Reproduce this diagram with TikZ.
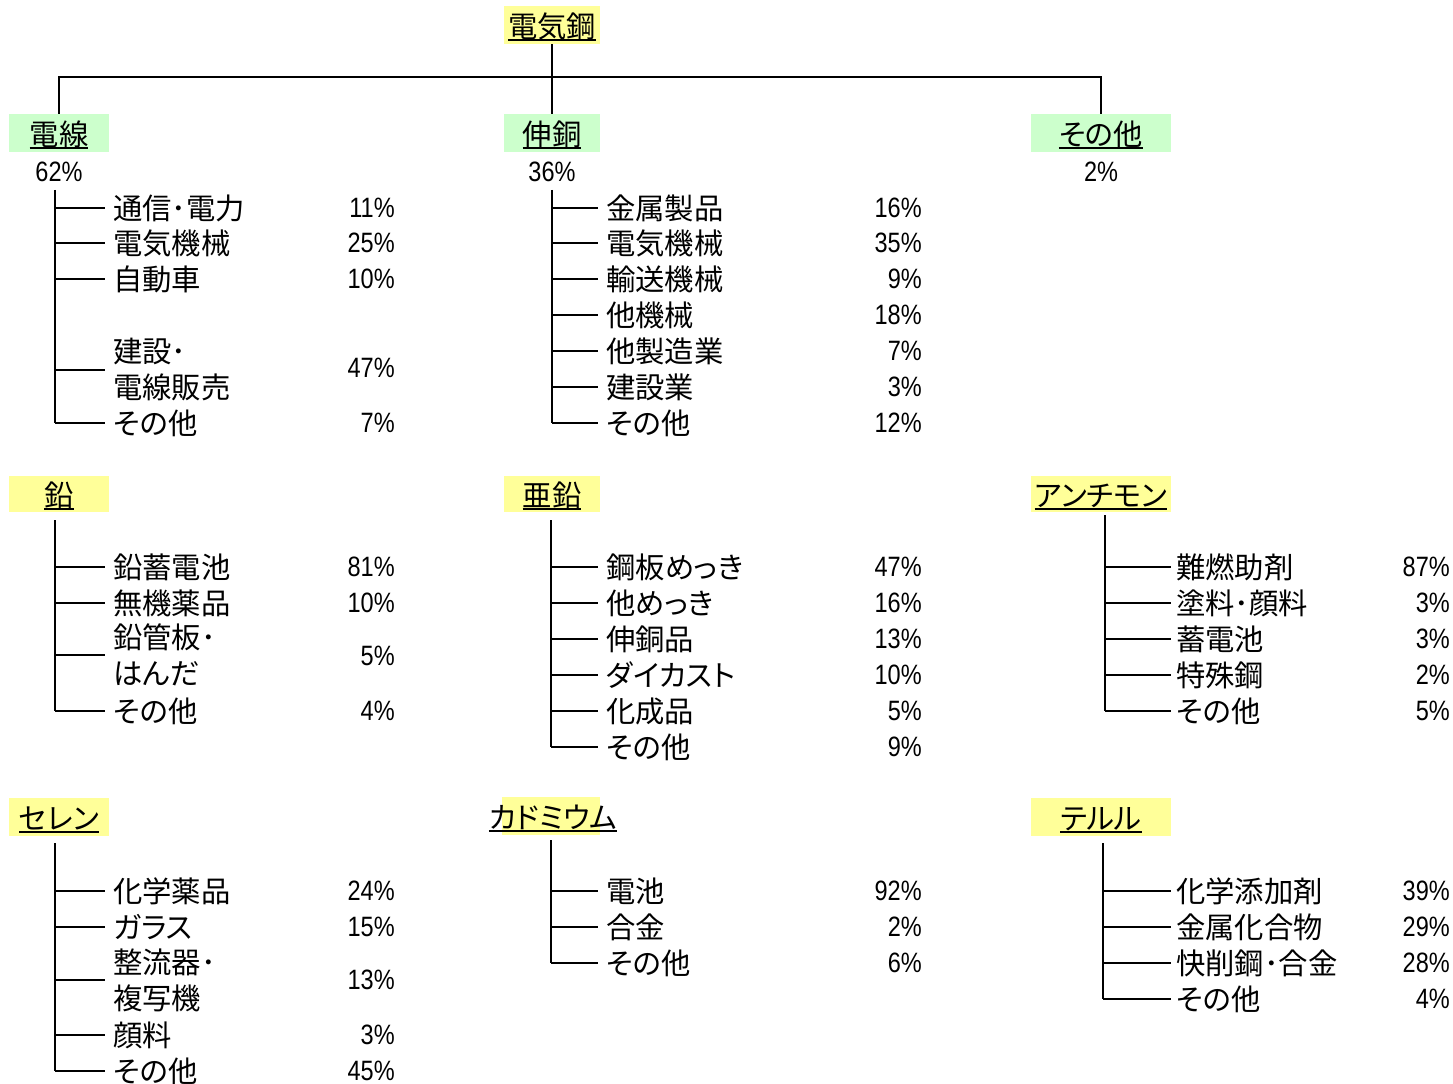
\documentclass[tikz,border=0pt]{standalone}
\usepackage{fontspec}
\setmainfont{Noto Sans CJK JP}[RawFeature=+palt]
\newfontfamily\pcfont{Liberation Sans}[FakeStretch=0.84]
\definecolor{hy}{HTML}{FFFF99}
\definecolor{hg}{HTML}{CCFFCC}
\newsavebox\ulbox
\newcommand\ulx[1]{\sbox\ulbox{#1}\rlap{\rule[-2.6pt]{\wd\ulbox}{1.6pt}}\usebox\ulbox}
\begin{document}
\begin{tikzpicture}[x=0.75pt,y=-0.75pt,
  hd/.style={inner sep=0, minimum height=28.5pt, text height=21pt, text depth=2pt, font=\fontsize{22}{27}\selectfont},
  it/.style={anchor=west, inner sep=0, align=left, font=\fontsize{22}{27}\selectfont},
  pc/.style={anchor=east, inner sep=0, font=\fontsize{21}{25}\selectfont\pcfont},
  hp/.style={inner sep=0, font=\fontsize{21}{25}\selectfont\pcfont},
  ln/.style={line width=1.4pt}]
\useasboundingbox (0,0) rectangle (1453,1084);

% ---------- top ----------
\node[hd, fill=hy, minimum width=72pt] (cu) at (552,25) {\ulx{電気鋼}};
\node[hd, fill=hg, minimum width=75pt] (dsn) at (59,133) {\ulx{電線}};
\node[hd, fill=hg, minimum width=72pt] (sdo) at (552,133) {\ulx{伸銅}};
\node[hd, fill=hg, minimum width=105pt] (oth) at (1101,133) {\ulx{その他}};
\coordinate (bus) at (551,77);
\draw[ln] (cu.south) -- (sdo.north);
\draw[ln] (dsn.north) -- (dsn.north |- bus) -- (oth.north |- bus) -- (oth.north);
\node[hp] (dsnp) at (59,172) {62\%};
\node[hp] (sdop) at (552,172) {36\%};
\node[hp] (othp) at (1101,172) {2\%};

% ---------- 電線 ----------
\coordinate (wt) at (55,190);
\node[it] (w1) at (113,208) {通信･電力};
\node[it] (w2) at (113,243) {電気機械};
\node[it] (w3) at (113,279) {自動車};
\node[it] (w4) at (113,370) {建設･\\電線販売};
\node[it] (w5) at (113,423) {その他};
\node[pc] (wp1) at (395,208) {11\%};
\node[pc] (wp2) at (395,243) {25\%};
\node[pc] (wp3) at (395,279) {10\%};
\node[pc] (wp4) at (395,368) {47\%};
\node[pc] (wp5) at (395,423) {7\%};
\draw[ln] (wt) -- (wt |- w5);
\foreach \n in {w1,w2,w3,w4,w5} \draw[ln] (wt |- \n) -- ([xshift=-6pt]\n.west);

% ---------- 伸銅 ----------
\coordinate (st) at (552,190);
\node[it] (s1) at (606,208) {金属製品};
\node[it] (s2) at (606,243) {電気機械};
\node[it] (s3) at (606,279) {輸送機械};
\node[it] (s4) at (606,315) {他機械};
\node[it] (s5) at (606,351) {他製造業};
\node[it] (s6) at (606,387) {建設業};
\node[it] (s7) at (606,423) {その他};
\node[pc] (sp1) at (922,208) {16\%};
\node[pc] (sp2) at (922,243) {35\%};
\node[pc] (sp3) at (922,279) {9\%};
\node[pc] (sp4) at (922,315) {18\%};
\node[pc] (sp5) at (922,351) {7\%};
\node[pc] (sp6) at (922,387) {3\%};
\node[pc] (sp7) at (922,423) {12\%};
\draw[ln] (st) -- (st |- s7);
\foreach \n in {s1,s2,s3,s4,s5,s6,s7} \draw[ln] (st |- \n) -- ([xshift=-6pt]\n.west);

% ---------- 鉛 ----------
\node[hd, fill=hy, minimum width=75pt, minimum height=27pt] (pb) at (59,494) {\ulx{鉛}};
\coordinate (pt) at (55,520);
\node[it] (p1) at (113,567) {鉛蓄電池};
\node[it] (p2) at (113,603) {無機薬品};
\node[it] (p3) at (113,655) {鉛管板･\\はんだ};
\node[it] (p4) at (113,711) {その他};
\node[pc] (pp1) at (395,567) {81\%};
\node[pc] (pp2) at (395,603) {10\%};
\node[pc] (pp3) at (395,656) {5\%};
\node[pc] (pp4) at (395,711) {4\%};
\draw[ln] (pt) -- (pt |- p4);
\foreach \n in {p1,p2,p3,p4} \draw[ln] (pt |- \n) -- ([xshift=-6pt]\n.west);

% ---------- 亜鉛 ----------
\node[hd, fill=hy, minimum width=72pt, minimum height=27pt] (zn) at (552,494) {\ulx{亜鉛}};
\coordinate (zt) at (551,520);
\node[it] (z1) at (606,567) {鋼板めっき};
\node[it] (z2) at (606,603) {他めっき};
\node[it] (z3) at (606,639) {伸銅品};
\node[it] (z4) at (606,675) {ダイカスト};
\node[it] (z5) at (606,711) {化成品};
\node[it] (z6) at (606,747) {その他};
\node[pc] (zp1) at (922,567) {47\%};
\node[pc] (zp2) at (922,603) {16\%};
\node[pc] (zp3) at (922,639) {13\%};
\node[pc] (zp4) at (922,675) {10\%};
\node[pc] (zp5) at (922,711) {5\%};
\node[pc] (zp6) at (922,747) {9\%};
\draw[ln] (zt) -- (zt |- z6);
\foreach \n in {z1,z2,z3,z4,z5,z6} \draw[ln] (zt |- \n) -- ([xshift=-6pt]\n.west);

% ---------- アンチモン ----------
\node[hd, fill=hy, minimum width=105pt, minimum height=27pt] (sb) at (1101,494) {\ulx{アンチモン}};
\coordinate (bt) at (1105,515);
\node[it] (b1) at (1176,567) {難燃助剤};
\node[it] (b2) at (1176,603) {塗料･顔料};
\node[it] (b3) at (1176,639) {蓄電池};
\node[it] (b4) at (1176,675) {特殊鋼};
\node[it] (b5) at (1176,711) {その他};
\node[pc] (bp1) at (1450,567) {87\%};
\node[pc] (bp2) at (1450,603) {3\%};
\node[pc] (bp3) at (1450,639) {3\%};
\node[pc] (bp4) at (1450,675) {2\%};
\node[pc] (bp5) at (1450,711) {5\%};
\draw[ln] (bt) -- (bt |- b5);
\foreach \n in {b1,b2,b3,b4,b5} \draw[ln] (bt |- \n) -- ([xshift=-4pt]\n.west);

% ---------- セレン ----------
\node[hd, fill=hy, minimum width=75pt] (se) at (59,817) {\ulx{セレン}};
\coordinate (et) at (55,843);
\node[it] (e1) at (113,891) {化学薬品};
\node[it] (e2) at (113,927) {ガラス};
\node[it] (e3) at (113,980) {整流器･\\複写機};
\node[it] (e4) at (113,1035) {顔料};
\node[it] (e5) at (113,1071) {その他};
\node[pc] (ep1) at (395,891) {24\%};
\node[pc] (ep2) at (395,927) {15\%};
\node[pc] (ep3) at (395,980) {13\%};
\node[pc] (ep4) at (395,1035) {3\%};
\node[pc] (ep5) at (395,1071) {45\%};
\draw[ln] (et) -- (et |- e5);
\foreach \n in {e1,e2,e3,e4,e5} \draw[ln] (et |- \n) -- ([xshift=-6pt]\n.west);

% ---------- カドミウム ----------
\node[hd, fill=hy, minimum width=73pt, minimum height=29pt] (cdb) at (551,816) {};
\node[hd, minimum height=29pt] (cd) at (553,816) {\ulx{カドミウム}};
\coordinate (ct) at (551,840);
\node[it] (c1) at (606,891) {電池};
\node[it] (c2) at (606,927) {合金};
\node[it] (c3) at (606,963) {その他};
\node[pc] (cp1) at (922,891) {92\%};
\node[pc] (cp2) at (922,927) {2\%};
\node[pc] (cp3) at (922,963) {6\%};
\draw[ln] (ct) -- (ct |- c3);
\foreach \n in {c1,c2,c3} \draw[ln] (ct |- \n) -- ([xshift=-6pt]\n.west);

% ---------- テルル ----------
\node[hd, fill=hy, minimum width=105pt] (te) at (1101,817) {\ulx{テルル}};
\coordinate (tt) at (1103,843);
\node[it] (t1) at (1176,891) {化学添加剤};
\node[it] (t2) at (1176,927) {金属化合物};
\node[it] (t3) at (1176,963) {快削鋼･合金};
\node[it] (t4) at (1176,999) {その他};
\node[pc] (tp1) at (1450,891) {39\%};
\node[pc] (tp2) at (1450,927) {29\%};
\node[pc] (tp3) at (1450,963) {28\%};
\node[pc] (tp4) at (1450,999) {4\%};
\draw[ln] (tt) -- (tt |- t4);
\foreach \n in {t1,t2,t3,t4} \draw[ln] (tt |- \n) -- ([xshift=-4pt]\n.west);
\end{tikzpicture}
\end{document}
